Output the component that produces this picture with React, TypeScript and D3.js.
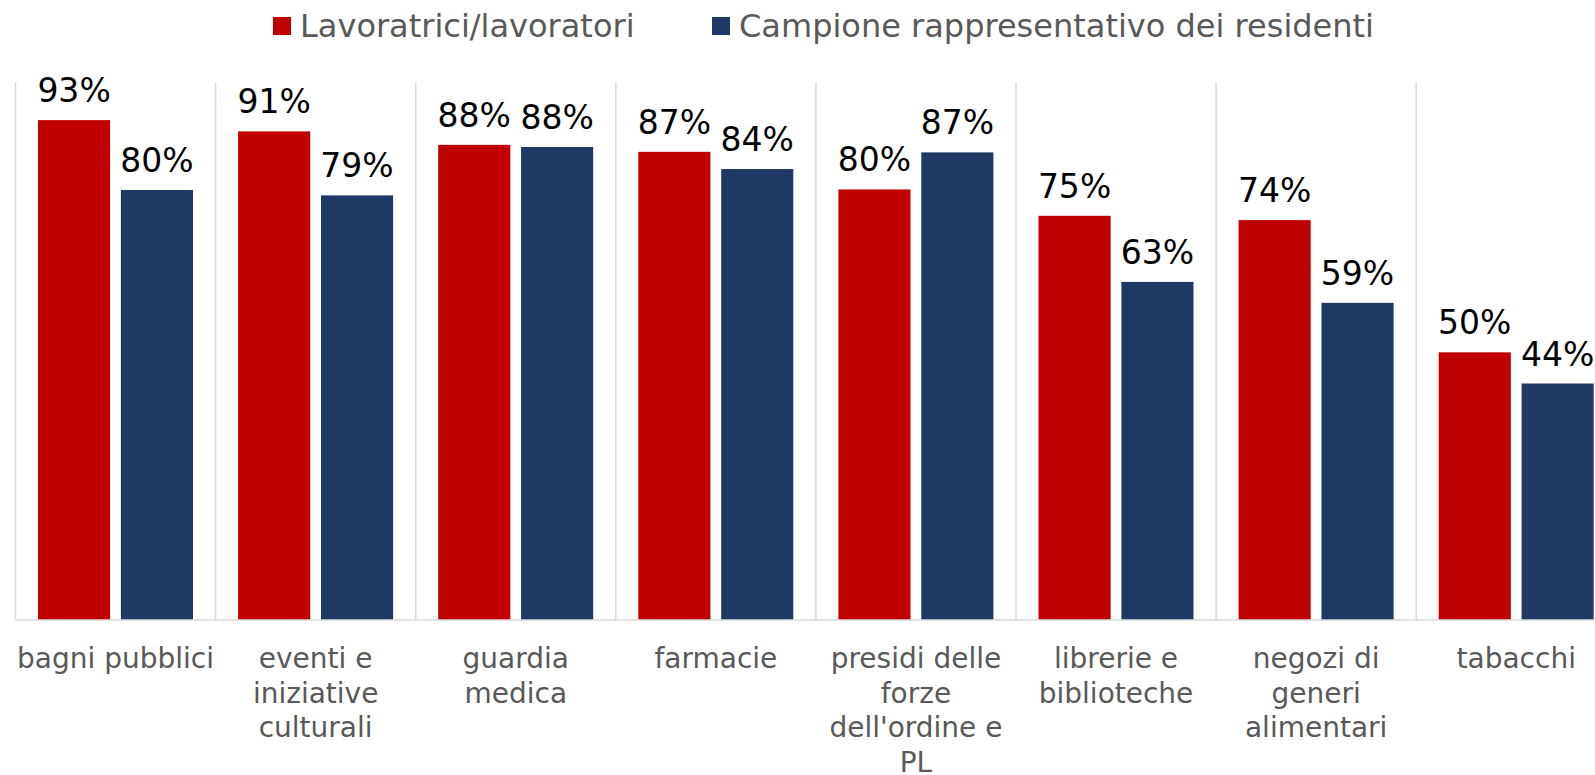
import React from "react";
import * as d3 from "d3";

const categories = [
  "bagni pubblici",
  "eventi e iniziative culturali",
  "guardia medica",
  "farmacie",
  "presidi delle forze dell'ordine e PL",
  "librerie e biblioteche",
  "negozi di generi alimentari",
  "tabacchi",
];
const seriesNames = ["Lavoratrici/lavoratori", "Campione rappresentativo dei residenti"];
const workers = [93.0, 90.9, 88.4, 87.1, 80.1, 75.2, 74.4, 49.8];
const residents = [80.0, 79.0, 88.0, 83.9, 87.0, 62.9, 59.0, 44.0];
const seriesColors = ["#C00000", "#1F3864"];

const W = 1595;
const H = 775;
const FONT = "'DejaVu Sans', Verdana, sans-serif";

function wrap(text: string, maxW: number, font: string): string[] {
  const canvas = document.createElement("canvas");
  const ctx = canvas.getContext("2d")!;
  ctx.font = font;
  const words = text.split(" ");
  const lines: string[] = [];
  let cur = "";
  for (const w of words) {
    const t = cur ? cur + " " + w : w;
    if (ctx.measureText(t).width > maxW && cur) {
      lines.push(cur);
      cur = w;
    } else cur = t;
  }
  if (cur) lines.push(cur);
  return lines;
}

export default function App() {
  const x0 = d3.scaleBand<string>().domain(categories).range([15.5, 15.5 + 8 * 200.1]).padding(0);
  const x1 = d3.scaleBand<string>().domain(seriesNames).range([22.5, 177.5]).paddingInner(0.13).paddingOuter(0);
  const y = d3.scaleLinear().domain([0, 100]).range([620, 82.5]);
  const series = [workers, residents];

  return (
    <svg width={W} height={H} style={{ position: "absolute", left: 0, top: 0, background: "#fff" }} fontFamily={FONT}>
      <rect width={W} height={H} fill="#fff" />
      {/* legend */}
      <g>
        <rect x={273} y={17} width={18} height={18} fill={seriesColors[0]} />
        <text x={300} y={37} fontSize={32} fill="#595959">{seriesNames[0]}</text>
        <rect x={712} y={17} width={18} height={18} fill={seriesColors[1]} />
        <text x={739} y={37} fontSize={32} fill="#595959">{seriesNames[1]}</text>
      </g>
      {/* vertical gridlines */}
      {categories.map((c) => (
        <line key={"g" + c} x1={x0(c)!} x2={x0(c)!} y1={y(100)} y2={y(0)} stroke="#d9d9d9" strokeWidth={1.5} />
      ))}
      {/* bars */}
      {categories.map((c, i) => (
        <g key={c} transform={`translate(${x0(c)},0)`}>
          {seriesNames.map((s, j) => {
            const v = series[j][i];
            return (
              <g key={s}>
                <rect x={x1(s)!} y={y(v)} width={x1.bandwidth()} height={y(0) - y(v)} fill={seriesColors[j]} />
                <text x={x1(s)! + x1.bandwidth() / 2} y={y(v) - 18} fontSize={33} textAnchor="middle" fill="#000">
                  {Math.round(v)}%
                </text>
              </g>
            );
          })}
        </g>
      ))}
      {/* baseline */}
      <line x1={15.5} x2={W} y1={y(0)} y2={y(0)} stroke="#d9d9d9" strokeWidth={1.5} />
      {/* category labels */}
      {categories.map((c) => {
        const lines = wrap(c, 200, `28px ${FONT}`);
        const cx = x0(c)! + x0.bandwidth() / 2;
        return (
          <text key={"l" + c} x={cx} y={668} fontSize={28} fill="#595959" textAnchor="middle">
            {lines.map((l, k) => (
              <tspan key={k} x={cx} y={668 + k * 34.5}>{l}</tspan>
            ))}
          </text>
        );
      })}
    </svg>
  );
}
